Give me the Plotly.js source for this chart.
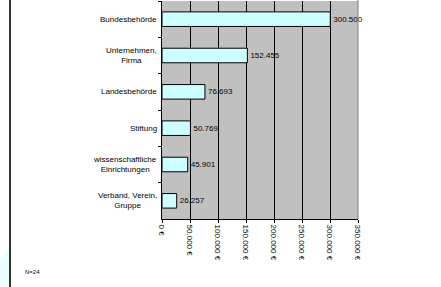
<!DOCTYPE html>
<html><head><meta charset="utf-8">
<script src="https://cdn.plot.ly/plotly-3.0.1.min.js"></script>
<style>body{margin:0;background:#fff}#c{width:441px;height:287px}</style>
</head><body><div id="c"></div>
<script>
const categories = ["Bundesbehörde","Unternehmen,<br>Firma","Landesbehörde","Stiftung","wissenschaftliche<br>Einrichtungen","Verband, Verein,<br>Gruppe"];
const values = [300500, 152455, 76693, 50769, 45901, 26257];
const tickValues = [0, 50000, 100000, 150000, 200000, 250000, 300000, 350000];
const note = "N=24";

function fmt(v){ return String(v).replace(/\B(?=(\d{3})+(?!\d))/g, "."); }
const tickLabels = tickValues.map(v => fmt(v) + " \u20AC");

const FONT = "Liberation Sans, Arial, sans-serif";
const trace = {
  type: "bar", orientation: "h",
  x: values, y: categories,
  marker: {color: "#ccffff", line: {color: "#000000", width: 1}},
  width: 0.4,
  text: values.map(fmt), texttemplate: "%{text}",
  textposition: "outside", cliponaxis: false,
  textfont: {family: FONT, size: 8, color: "#000"},
  hoverinfo: "none"
};
const annotations = categories.map(c => ({
  xref: "paper", yref: "y", x: 0, y: c, xanchor: "right", yanchor: "middle",
  xshift: -3, text: c, showarrow: false, align: "center",
  font: {family: FONT, size: 8, color: "#000"}
}));
annotations.push({xref: "paper", yref: "paper", x: (23-162)/196, y: (219-272)/218,
  xanchor: "left", yanchor: "middle", text: note, showarrow: false,
  font: {family: FONT, size: 6, color: "#000"}});
const layout = {
  width: 441, height: 287,
  margin: {l: 162, r: 83, t: 1, b: 68, pad: 0},
  paper_bgcolor: "#fff", plot_bgcolor: "#c0c0c0",
  showlegend: false,
  font: {family: FONT, size: 8, color: "#000"},
  xaxis: {range: [0, 350000], tickmode: "array", tickvals: tickValues, ticktext: tickLabels,
    tickangle: 90, showgrid: true, gridcolor: "#000", gridwidth: 1,
    showline: true, linecolor: "#000", linewidth: 1, ticks: "outside", ticklen: 3,
    tickcolor: "#000", zeroline: false, fixedrange: true,
    tickfont: {family: FONT, size: 8, color: "#000"}},
  yaxis: {type: "category", autorange: "reversed", showticklabels: false,
    ticks: "outside", ticklen: 3, tickson: "boundaries", tickcolor: "#000",
    showline: true, linecolor: "#000", linewidth: 1, showgrid: false, fixedrange: true},
  shapes: [
    {type: "line", xref: "paper", yref: "paper", x0: 1, x1: 1, y0: 0, y1: 1.01,
      line: {color: "#808080", width: 1}, layer: "above"},
    {type: "path", xref: "paper", yref: "paper",
      path: `M ${(0-162)/196} ${(219-287)/218} L ${(0-162)/196} ${(219-262)/218} L ${(9-162)/196} ${(219-246)/218} L ${(9-162)/196} ${(219-287)/218} Z`,
      fillcolor: "#eaffff", line: {width: 0}, layer: "below"},
    {type: "line", xref: "paper", yref: "paper", x0: (10-162)/196, x1: (10-162)/196,
      y0: (219-290)/218, y1: 1.02, line: {color: "#333", width: 2}}
  ],
  annotations: annotations
};
Plotly.newPlot("c", [trace], layout, {staticPlot: true, displayModeBar: false});
</script></body></html>
